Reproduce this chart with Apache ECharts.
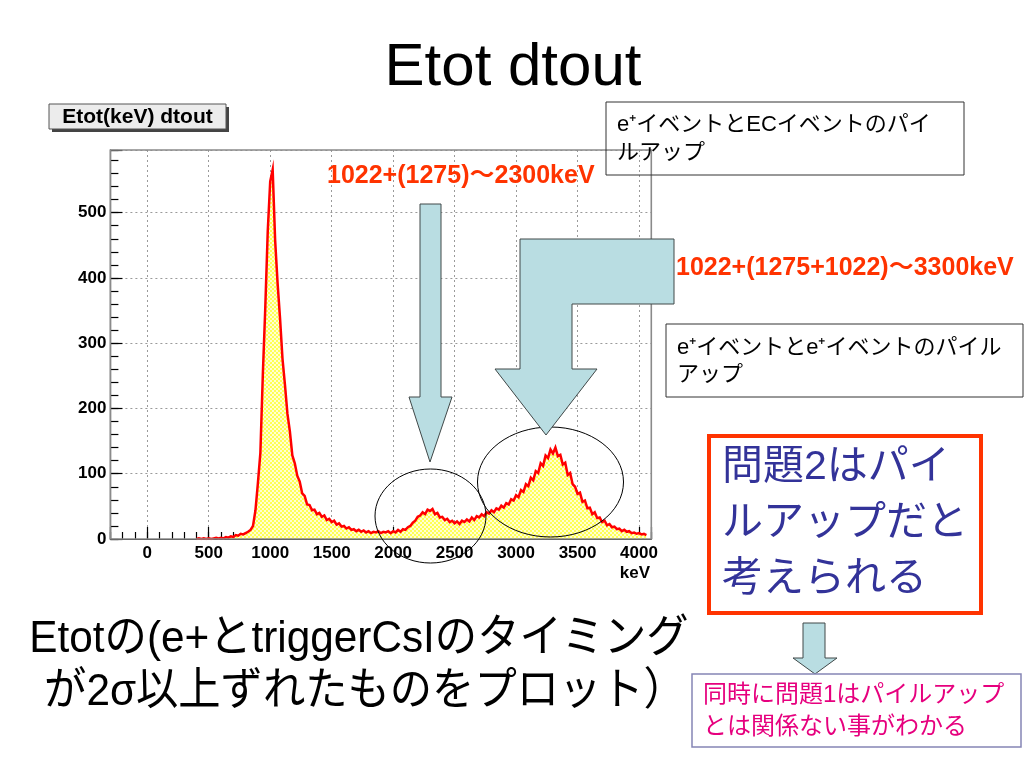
<!DOCTYPE html>
<html>
<head>
<meta charset="utf-8">
<script src="https://cdn.jsdelivr.net/npm/echarts@6/dist/echarts.min.js"></script>
<style>
html,body{margin:0;padding:0;background:#fff;}
#c{width:1024px;height:768px;}
</style>
</head>
<body>
<div id="c"></div>
<script>
// ---- data ----
const binLow = 400;      // first bin centre, keV
const binWidth = 20;     // keV
const counts = [
  0,1,0,1,0,            // 400-480
  1,0,1,2,1,            // 500-580
  2,1,3,2,4,            // 600-680
  3,6,5,8,7,            // 700-780
  9,11,14,20,44,        // 800-880
  86,132,252,355,472,   // 900-980
  548,566,458,392,338,  // 1000-1080
  276,236,192,165,128,  // 1100-1180
  116,97,88,70,66,      // 1200-1280
  53,52,44,45,38,       // 1300-1380
  40,34,36,29,31,       // 1400-1480
  26,28,22,24,19,       // 1500-1580
  20,16,18,14,15,       // 1600-1680
  12,14,11,13,10,       // 1700-1780
  12,9,11,10,12,        // 1800-1880
  9,11,10,12,9,         // 1900-1980
  12,10,14,11,15,       // 2000-2080
  14,18,20,25,28,       // 2100-2180
  34,36,41,38,45,       // 2200-2280
  43,46,38,40,33,       // 2300-2380
  34,29,31,26,28,       // 2400-2480
  24,27,23,28,26,       // 2500-2580
  30,27,33,29,35,       // 2600-2680
  33,38,35,41,39,       // 2700-2780
  44,41,47,45,51,       // 2800-2880
  48,55,53,61,59,       // 2900-2980
  67,64,75,72,84,       // 3000-3080
  81,94,90,104,101,     // 3100-3180
  116,112,128,124,137,  // 3200-3280
  131,140,127,129,114,  // 3300-3380
  117,98,101,84,80,     // 3400-3480
  69,71,57,59,47,       // 3500-3580
  48,38,41,32,33,       // 3600-3680
  26,28,21,23,18,       // 3700-3780
  19,15,16,12,14,       // 3800-3880
  11,12,9,10,8,         // 3900-3980
  9,7,8,6               // 4000-4060
];
const xMin = -300, xMax = 4100;
const yMin = 0, yMax = 596;
const xMajorStep = 500, xMinorStep = 100;
const yMajorStep = 100, yMinorStep = 20;

const slideTitle = 'Etot dtout';
const histTitle = 'Etot(keV) dtout';
const xUnit = 'keV';
const note1 = ['e⁺イベントとECイベントのパイ', 'ルアップ'];
const note2 = ['e⁺イベントとe⁺イベントのパイル', 'アップ'];
const red1 = '1022+(1275)～2300keV';
const red2 = '1022+(1275+1022)～3300keV';
const concl = ['問題2はパイ', 'ルアップだと', '考えられる'];
const concl2 = ['同時に問題1はパイルアップ', 'とは関係ない事がわかる'];
const bottomText = ['Etotの(e+とtriggerCsIのタイミング', 'が2σ以上ずれたものをプロット）'];

// ---- build ----
const histData = counts.map((v, i) => [binLow + i * binWidth, v]);

const pc = document.createElement('canvas');
pc.width = 4; pc.height = 4;
const g = pc.getContext('2d');
g.fillStyle = '#ffffd2'; g.fillRect(0, 0, 4, 4);
g.fillStyle = '#ffff55'; g.fillRect(0, 0, 2, 2); g.fillRect(2, 2, 2, 2);

const F = '"Liberation Sans", Arial, "Noto Sans CJK JP", sans-serif';
const gl = 110.4, gt = 150, gr = 651.3, gb = 539;
const arrowFill = '#b9dde2', arrowStroke = '#404848';

function txt(text, x, y, size, color, opts) {
  opts = opts || {};
  return {
    type: 'text', z: 120,
    style: {
      text: text, x: x, y: y,
      font: (opts.bold ? 'bold ' : '') + size + 'px ' + F,
      fill: color, textAlign: opts.align || 'left', textVerticalAlign: 'middle'
    }
  };
}
function narrowTxt(text, x, y, size, sx) {
  return {
    type: 'text', z: 120, x: x, y: y, scaleX: sx, scaleY: 1,
    style: {
      text: text, x: 0, y: 0, font: size + 'px ' + F,
      fill: '#000', textAlign: 'center', textVerticalAlign: 'middle'
    }
  };
}

const chart = echarts.init(document.getElementById('c'), null, {renderer: 'canvas'});
chart.setOption({
  animation: false,
  backgroundColor: '#ffffff',
  grid: {left: gl, top: gt, width: gr - gl, height: gb - gt, containLabel: false},
  xAxis: [{
    type: 'value', min: xMin, max: xMax, splitNumber: 9,
    axisLine: {show: true, onZero: false, lineStyle: {color: '#000', width: 1.2}},
    axisTick: {show: true, inside: true, length: 12, lineStyle: {color: '#000', width: 1.2}},
    axisLabel: {
      margin: 6, color: '#000', fontFamily: F, fontWeight: 'bold', fontSize: 17,
      formatter: v => (v % xMajorStep === 0 ? String(v) : '')
    },
    splitLine: {show: true, lineStyle: {color: '#9a9a9a', type: [2, 3], width: 1}},
    minorTick: {show: false}
  }, {
    type: 'value', min: xMin, max: xMax, interval: xMinorStep, position: 'bottom',
    axisLine: {show: false, onZero: false},
    axisTick: {show: true, inside: true, length: 7, lineStyle: {color: '#000', width: 1.2}},
    axisLabel: {show: false}, splitLine: {show: false}
  }],
  yAxis: [{
    type: 'value', min: yMin, max: yMax, interval: yMajorStep, position: 'left',
    axisLine: {show: true, onZero: false, lineStyle: {color: '#000', width: 1.2}},
    axisTick: {show: true, inside: true, length: 12, lineStyle: {color: '#000', width: 1.2}},
    axisLabel: {
      margin: 4, color: '#000', fontFamily: F, fontWeight: 'bold', fontSize: 17,
      formatter: v => (v % yMajorStep === 0 ? String(v) : '')
    },
    splitLine: {show: true, lineStyle: {color: '#9a9a9a', type: [2, 3], width: 1}}
  }, {
    type: 'value', min: yMin, max: yMax, interval: yMinorStep, position: 'left',
    axisLine: {show: false, onZero: false},
    axisTick: {show: true, inside: true, length: 8, lineStyle: {color: '#000', width: 1.2}},
    axisLabel: {show: false}, splitLine: {show: false}
  }],
  series: [{
    type: 'line', xAxisIndex: 0, yAxisIndex: 0,
    data: histData, showSymbol: false, symbol: 'none',
    lineStyle: {color: '#ff0000', width: 2.5, join: 'miter'},
    areaStyle: {color: {image: pc, repeat: 'repeat'}, opacity: 1},
    z: 3
  }],
  graphic: [
    // frame
    {type: 'rect', z: 50, shape: {x: gl, y: gt, width: gr - gl, height: gb - gt},
      style: {fill: 'none', stroke: '#8a8a8a', lineWidth: 1.6}},
    // slide title
    txt(slideTitle, 513, 68, 60, '#000', {align: 'center'}),
    // ROOT title box
    {type: 'rect', z: 60, shape: {x: 52, y: 107, width: 177, height: 25}, style: {fill: '#444'}},
    {type: 'rect', z: 61, shape: {x: 49, y: 104, width: 177, height: 25}, style: {fill: '#ececec', stroke: '#555', lineWidth: 1}},
    txt(histTitle, 137.5, 117, 21, '#000', {align: 'center', bold: true}),
    // x unit
    txt(xUnit, 650, 573, 17, '#000', {align: 'right', bold: true}),
    // arrows
    {type: 'polygon', z: 110, shape: {points: [[420,204],[441,204],[441,397],[452,397],[430,462],[409,397],[420,397]]},
      style: {fill: arrowFill, stroke: arrowStroke, lineWidth: 1}},
    {type: 'polygon', z: 110, shape: {points: [[520,239],[674,239],[674,304],[572,304],[572,369],[597,369],[546,435],[495,369],[520,369]]},
      style: {fill: arrowFill, stroke: arrowStroke, lineWidth: 1}},
    {type: 'polygon', z: 110, shape: {points: [[803,623],[825,623],[825,658],[837,658],[815,674],[793,658],[803,658]]},
      style: {fill: arrowFill, stroke: arrowStroke, lineWidth: 1}},
    // ellipses
    {type: 'ellipse', z: 105, shape: {cx: 430.5, cy: 516, rx: 55.5, ry: 47}, style: {fill: 'none', stroke: '#000', lineWidth: 1}},
    {type: 'ellipse', z: 105, shape: {cx: 550.5, cy: 482, rx: 73, ry: 55}, style: {fill: 'none', stroke: '#000', lineWidth: 1}},
    // note boxes
    {type: 'rect', z: 115, shape: {x: 606, y: 102, width: 358, height: 73}, style: {fill: 'none', stroke: '#333', lineWidth: 1}},
    txt(note1[0], 617, 125, 22, '#000'),
    txt(note1[1], 617, 153, 22, '#000'),
    {type: 'rect', z: 115, shape: {x: 666, y: 324, width: 357, height: 73}, style: {fill: '#fff', stroke: '#333', lineWidth: 1}},
    txt(note2[0], 677, 348, 22, '#000'),
    txt(note2[1], 677, 375, 22, '#000'),
    // red annotations
    txt(red1, 327, 176, 25, '#ff3300', {bold: true}),
    txt(red2, 676, 268, 25, '#ff3300', {bold: true}),
    // conclusion box
    {type: 'rect', z: 115, shape: {x: 709, y: 436, width: 272, height: 177}, style: {fill: '#fff', stroke: '#ff3300', lineWidth: 4}},
    txt(concl[0], 722, 468, 41, '#333399'),
    txt(concl[1], 722, 524, 41, '#333399'),
    txt(concl[2], 722, 580, 41, '#333399'),
    // second conclusion
    {type: 'rect', z: 115, shape: {x: 692, y: 674, width: 329, height: 73}, style: {fill: '#fff', stroke: '#8585b5', lineWidth: 1.5}},
    txt(concl2[0], 703, 695, 24, '#e6007e'),
    txt(concl2[1], 703, 727, 24, '#e6007e'),
    // bottom text
    narrowTxt(bottomText[0], 359, 640, 45, 0.94),
    narrowTxt(bottomText[1], 365, 693, 45, 0.94)
  ]
});
</script>
</body>
</html>
